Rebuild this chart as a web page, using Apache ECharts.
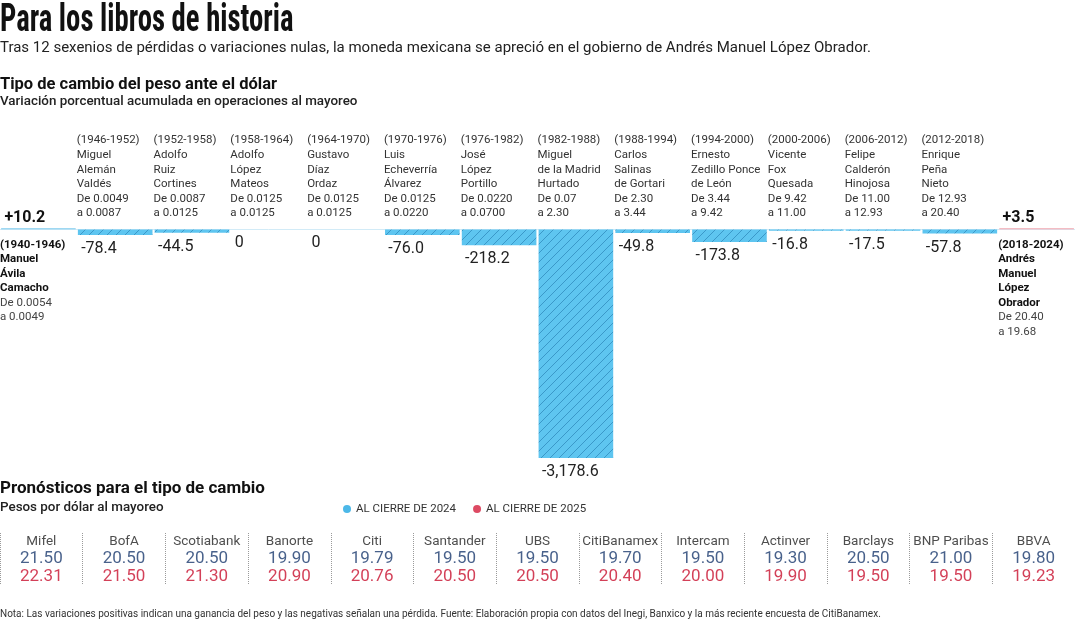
<!DOCTYPE html>
<html><head><meta charset="utf-8">
<script src="https://cdn.jsdelivr.net/npm/echarts@6/dist/echarts.min.js"></script>
<style>html,body{margin:0;padding:0;background:#fff}#c{width:1075px;height:620px}</style>
</head><body><div id="c"></div>
<script>
// ---- data ----
const periods = ['(1940-1946)','(1946-1952)','(1952-1958)','(1958-1964)','(1964-1970)','(1970-1976)','(1976-1982)','(1982-1988)','(1988-1994)','(1994-2000)','(2000-2006)','(2006-2012)','(2012-2018)','(2018-2024)'];
const presidents = ['Manuel\nÁvila\nCamacho','Miguel\nAlemán\nValdés','Adolfo\nRuiz\nCortines','Adolfo\nLópez\nMateos','Gustavo\nDíaz\nOrdaz','Luis\nEcheverría\nÁlvarez','José\nLópez\nPortillo','Miguel\nde la Madrid\nHurtado','Carlos\nSalinas\nde Gortari','Ernesto\nZedillo Ponce\nde León','Vicente\nFox\nQuesada','Felipe\nCalderón\nHinojosa','Enrique\nPeña\nNieto','Andrés\nManuel\nLópez\nObrador'];
const rateFrom = ['0.0054','0.0049','0.0087','0.0125','0.0125','0.0125','0.0220','0.07','2.30','3.44','9.42','11.00','12.93','20.40'];
const rateTo = ['0.0049','0.0087','0.0125','0.0125','0.0125','0.0220','0.0700','2.30','3.44','9.42','11.00','12.93','20.40','19.68'];
const variation = [10.2,-78.4,-44.5,0,0,-76.0,-218.2,-3178.6,-49.8,-173.8,-16.8,-17.5,-57.8,3.5];

const banks = ['Mifel','BofA','Scotiabank','Banorte','Citi','Santander','UBS','CitiBanamex','Intercam','Actinver','Barclays','BNP Paribas','BBVA'];
const close2024 = [21.50,20.50,20.50,19.90,19.79,19.50,19.50,19.70,19.50,19.30,20.50,21.00,19.80];
const close2025 = [22.31,21.50,21.30,20.90,20.76,20.50,20.50,20.40,20.00,19.90,19.50,19.50,19.23];
const rowNames = ['2025','2024','banco'];

// ---- style helpers ----
const FONT = 'Roboto, "Liberation Sans", sans-serif';
function hatch(){
  const s = 9, c = document.createElement('canvas'); c.width = s; c.height = s;
  const g = c.getContext('2d');
  g.fillStyle = '#5ec5f0'; g.fillRect(0,0,s,s);
  g.strokeStyle = '#3a98c9'; g.lineWidth = 1;
  g.beginPath();
  g.moveTo(0,s); g.lineTo(s,0);
  g.moveTo(-s,s); g.lineTo(0,0);
  g.moveTo(s,2*s); g.lineTo(2*s,s);
  g.stroke();
  return c;
}
function fmt(v){
  if (v === 0) return '0';
  const s = Math.abs(v).toLocaleString('en-US',{minimumFractionDigits:1,maximumFractionDigits:1});
  return (v > 0 ? '+' : '-') + s;
}
const negVals = variation.map(v => v <= 0 ? v : null);
const posVals = variation.map(v => v > 0 ? v : null);
const lastIdx = variation.length - 1;

const chart = echarts.init(document.getElementById('c'), null, {renderer:'canvas'});
const option = {
  animation: false,
  backgroundColor: '#fff',
  textStyle: {fontFamily: FONT},
  grid: [
    {left: 0, right: 0, top: 228, height: 231.5},
    {left: -8, right: -8, top: 533, height: 52}
  ],
  xAxis: [
    {type:'category', gridIndex:0, data: periods,
     axisLine:{show:true, onZero:true, lineStyle:{color:'#d2ebf7', width:1}},
     axisTick:{show:false}, axisLabel:{show:false}, splitLine:{show:false}},
    {type:'category', gridIndex:1, data: banks,
     axisLine:{show:false}, axisTick:{show:false, interval:0}, axisLabel:{show:false},
     splitLine:{show:true, interval:0, lineStyle:{type:'dotted', color:'#9a9a9a', width:1}}}
  ],
  yAxis: [
    {type:'value', gridIndex:0, min:-3200, max:20, show:false, splitLine:{show:false}},
    {type:'category', gridIndex:1, data: rowNames, show:false}
  ],
  legend: {
    data: ['AL CIERRE DE 2024','AL CIERRE DE 2025'],
    left: 338, top: 498, icon: 'circle', itemWidth: 8, itemHeight: 8, itemGap: 17,
    selectedMode: false,
    textStyle: {fontSize: 11.5, color: '#333', fontFamily: FONT}
  },
  series: [
    {type:'bar', name:'neg', xAxisIndex:0, yAxisIndex:0, data: negVals, barWidth: 74.6, barGap:'-100%',
     itemStyle:{color:{image: hatch(), repeat:'repeat'}},
     label:{show:true, position:'bottom', distance:6, align:'left', offset:[-34,0],
            formatter: p => fmt(p.value), fontSize:16, color:'#222', fontFamily: FONT}},
    {type:'bar', name:'pos', xAxisIndex:0, yAxisIndex:0, data: posVals, barWidth: 74.6, barGap:'-100%',
     barMinHeight: 1.6,
     itemStyle:{color: p => p.dataIndex === lastIdx ? '#f4bcc3' : '#9fd8f2'},
     label:{show:true, position:'top', distance:2, align:'left', offset:[-34,0],
            formatter: p => fmt(p.value), fontSize:16, fontWeight:'bold', color:'#111', fontFamily: FONT}},
    {type:'scatter', name:'bancos', xAxisIndex:1, yAxisIndex:1, symbolSize:0, silent:true,
     data: banks.map(b => [b, 'banco']),
     label:{show:true, position:'inside', formatter: p => p.data[0], fontSize:13.5, color:'#222', fontFamily: FONT}},
    {type:'scatter', name:'AL CIERRE DE 2024', xAxisIndex:1, yAxisIndex:1, symbolSize:0, silent:true,
     itemStyle:{color:'#1fa6e2'},
     data: banks.map((b,i) => [b, '2024', close2024[i]]),
     label:{show:true, position:'inside', formatter: p => p.data[2].toFixed(2), fontSize:17, color:'#1a3a6e', fontFamily: FONT}},
    {type:'scatter', name:'AL CIERRE DE 2025', xAxisIndex:1, yAxisIndex:1, symbolSize:0, silent:true,
     itemStyle:{color:'#d51d3c'},
     data: banks.map((b,i) => [b, '2025', close2025[i]]),
     label:{show:true, position:'inside', formatter: p => p.data[2].toFixed(2), fontSize:17, color:'#c8102e', fontFamily: FONT}}
  ]
};
chart.setOption(option);

// ---- annotations positioned from the library's scales ----
const y0 = chart.convertToPixel({yAxisIndex:0}, 0);
const step = chart.convertToPixel({xAxisIndex:0}, 1) - chart.convertToPixel({xAxisIndex:0}, 0);
const g = [];
function txt(x, y, text, font, fill, extra){
  g.push(Object.assign({type:'text', x:x, y:y, silent:true,
    style:{text:text, font:font, fill:fill, align:'left', verticalAlign:'middle'}}, extra||{}));
}
txt(0, 21, 'Para los libros de historia', 'bold 38px "Liberation Sans Narrow", "Roboto Condensed", sans-serif', '#111', {scaleX:0.755});
txt(0, 48, 'Tras 12 sexenios de pérdidas o variaciones nulas, la moneda mexicana se apreció en el gobierno de Andrés Manuel López Obrador.', '15px ' + FONT, '#222');
txt(0, 85, 'Tipo de cambio del peso ante el dólar', 'bold 16.5px ' + FONT, '#111');
txt(0, 102, 'Variación porcentual acumulada en operaciones al mayoreo', '500 13.4px ' + FONT, '#222');
txt(0, 489, 'Pronósticos para el tipo de cambio', 'bold 17px ' + FONT, '#111');
txt(0, 508, 'Pesos por dólar al mayoreo', '500 13.4px ' + FONT, '#222');
txt(0, 614, 'Nota: Las variaciones positivas indican una ganancia del peso y las negativas señalan una pérdida. Fuente: Elaboración propia con datos del Inegi, Banxico y la más reciente encuesta de CitiBanamex.', '10px ' + FONT, '#333');

const LH = 14.6;
periods.forEach((p, i) => {
  const left = chart.convertToPixel({xAxisIndex:0}, i) - step/2;
  const names = presidents[i].split('\n');
  if (variation[i] > 0) {
    const lines = [[p,true]].concat(names.map(n => [n,true]), [['De ' + rateFrom[i], false], ['a ' + rateTo[i], false]]);
    lines.forEach((l, k) => {
      txt(left, y0 + 15.5 + k*14.5, l[0], (l[1] ? 'bold ' : '') + '11.5px ' + FONT, l[1] ? '#111' : '#444');
    });
  } else {
    const lines = [p].concat(names, ['De ' + rateFrom[i], 'a ' + rateTo[i]]);
    lines.forEach((l, k) => {
      txt(left, y0 - 89 + k*LH, l, '11.5px ' + FONT, '#333');
    });
  }
});
chart.setOption({graphic: g});
</script></body></html>
